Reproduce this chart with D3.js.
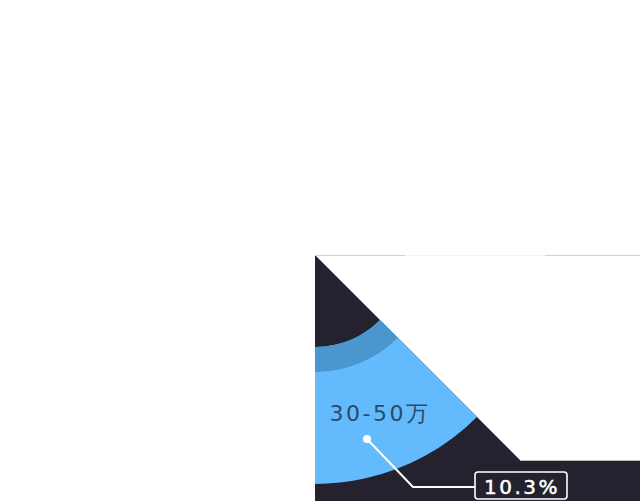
<!DOCTYPE html>
<html><head><meta charset="utf-8">
<script src="https://cdn.jsdelivr.net/npm/d3@7/dist/d3.min.js"></script>
<style>html,body{margin:0;padding:0;background:#fff;}svg{display:block;}</style>
</head><body>
<svg id="c" width="640" height="501"></svg>
<script>
// data
const categories = ["30-50万"];
const percents = [10.3];
const sliceStartDeg = [135];
const sliceEndDeg = [200];

const W = 640, H = 501;
const cx = 315, cy = 255;
const svg = d3.select("#c");

svg.append("defs").append("clipPath").attr("id","panel")
  .append("rect").attr("x",cx).attr("y",cy).attr("width",W-cx).attr("height",H-cy);

const g = svg.append("g").attr("clip-path","url(#panel)");

// background panel
g.append("path")
  .attr("d", `M${cx},${cy} L${cx+205},${cy+205} L${W},${cy+205} L${W},${H} L${cx},${H} Z`)
  .attr("fill","#24222e");
g.append("line").attr("x1",cx+205).attr("x2",W).attr("y1",cy+205.5).attr("y2",cy+205.5)
  .attr("stroke","#bbbbbb").attr("stroke-width",1);
g.append("line").attr("x1",cx).attr("x2",W).attr("y1",cy+0.5).attr("y2",cy+0.5)
  .attr("stroke","#d2d2d2").attr("stroke-width",1);
g.append("line").attr("x1",405).attr("x2",545).attr("y1",cy+0.5).attr("y2",cy+0.5)
  .attr("stroke","#eef5fb").attr("stroke-width",1);

const ang = d3.scaleLinear().domain([0,360]).range([0,2*Math.PI]);
const rInner = 92, rBand = 117, rOuter = 229;

const root = g.append("g").attr("transform",`translate(${cx},${cy})`);

categories.forEach((c,i)=>{
  const a0 = ang(sliceStartDeg[i]), a1 = ang(sliceEndDeg[i]);
  root.append("path")
    .attr("d", d3.arc()({innerRadius:rInner, outerRadius:rOuter, startAngle:a0, endAngle:a1}))
    .attr("fill","#63bbfd");
  root.append("path")
    .attr("d", d3.arc()({innerRadius:rInner, outerRadius:rBand, startAngle:a0, endAngle:a1}))
    .attr("fill","#4b96cf");

  root.append("text")
    .attr("x", 65).attr("y", 166)
    .attr("text-anchor","middle")
    .attr("font-family","DejaVu Sans, sans-serif")
    .attr("font-size",22)
    .attr("letter-spacing",2.5)
    .attr("fill","#2b4a68")
    .text(c);

  const dot = [52,184];
  const elbow = [98,232];
  const end = [160,232];
  root.append("polyline")
    .attr("points",[dot,elbow,end].map(p=>p.join(",")).join(" "))
    .attr("fill","none").attr("stroke","#ffffff").attr("stroke-width",2);
  root.append("circle").attr("cx",dot[0]).attr("cy",dot[1]).attr("r",4).attr("fill","#ffffff");

  root.append("rect").attr("x",160).attr("y",217).attr("width",92).attr("height",27).attr("rx",3)
    .attr("fill","#24222e").attr("stroke","#ffffff").attr("stroke-width",1.6);
  root.append("text")
    .attr("x",207).attr("y",239)
    .attr("text-anchor","middle")
    .attr("font-family","DejaVu Sans, sans-serif")
    .attr("font-size",20)
    .attr("letter-spacing",2.5)
    .attr("fill","#ffffff")
    .attr("stroke","#ffffff").attr("stroke-width",0.5)
    .text(percents[i].toFixed(1)+"%");
});
</script>
</body></html>
